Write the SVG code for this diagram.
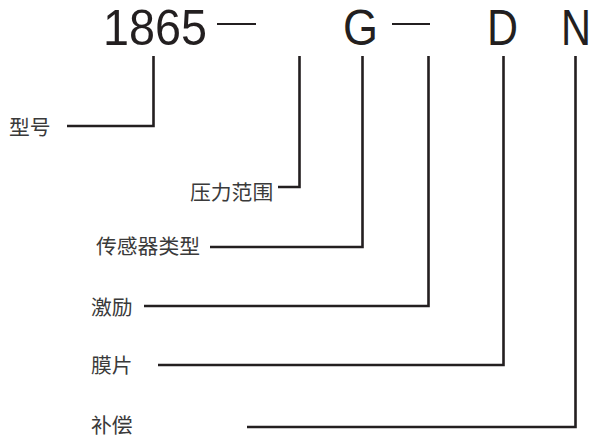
<svg xmlns="http://www.w3.org/2000/svg" width="595" height="436" viewBox="0 0 595 436">
<style>
.code{font-family:"Liberation Sans",Arial,sans-serif;font-size:50px;fill:#231f20}
.lbl{font-family:"Noto Sans CJK SC","Noto Sans",sans-serif;font-size:20.8px;fill:#3a3a3a;dominant-baseline:central}
.ln{fill:none;stroke:#231f20;stroke-width:2.6;stroke-linejoin:miter;stroke-linecap:butt}
.dash{stroke:#231f20;stroke-width:2}
</style>
<rect width="595" height="436" fill="#fff"/>
<g id="code">
<text class="code" x="103" y="45" textLength="104" lengthAdjust="spacingAndGlyphs">1865</text>
<line class="dash" x1="217" y1="24" x2="256" y2="24"/>
<text class="code" x="343" y="45" textLength="35" lengthAdjust="spacingAndGlyphs">G</text>
<line class="dash" x1="392" y1="24" x2="430" y2="24"/>
<text class="code" x="487" y="45" textLength="31" lengthAdjust="spacingAndGlyphs">D</text>
<text class="code" x="561" y="45" textLength="30" lengthAdjust="spacingAndGlyphs">N</text>
</g>
<g id="n1"><text class="lbl" x="9" y="126">型号</text></g>
<g id="n2"><text class="lbl" x="190" y="191">压力范围</text></g>
<g id="n3"><text class="lbl" x="96" y="245">传感器类型</text></g>
<g id="n4"><text class="lbl" x="91" y="306">激励</text></g>
<g id="n5"><text class="lbl" x="91" y="364">膜片</text></g>
<g id="n6"><text class="lbl" x="91" y="424">补偿</text></g>
<g id="connectors">
<path class="ln" d="M67 126H153.5V56"/>
<path class="ln" d="M278 187H299.5V56"/>
<path class="ln" d="M210 247H362.5V56"/>
<path class="ln" d="M144 306H428.5V56"/>
<path class="ln" d="M158 365H503.5V56"/>
<path class="ln" d="M247 427H575.5V56"/>
</g>
</svg>
